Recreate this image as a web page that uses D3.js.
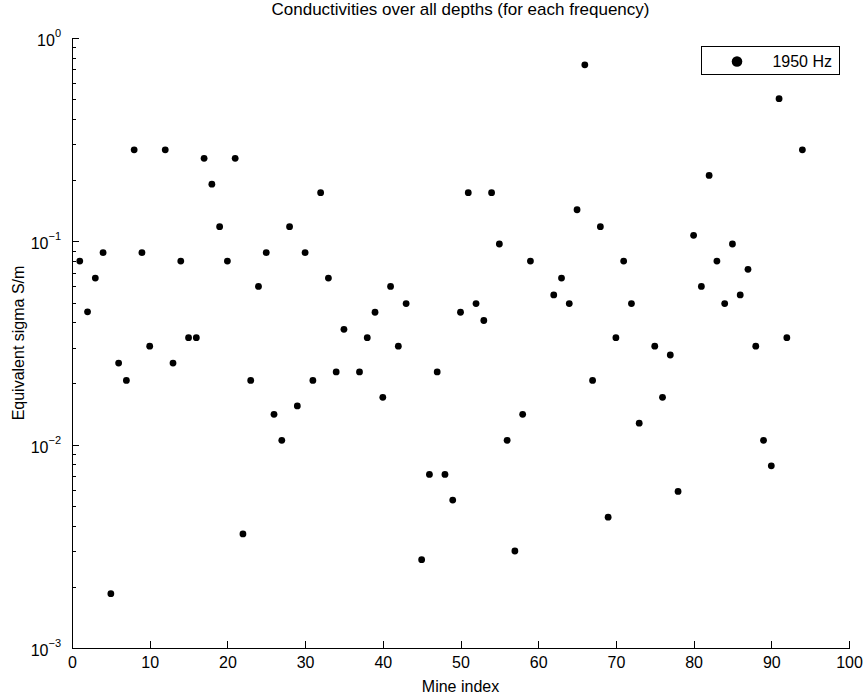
<!DOCTYPE html>
<meta charset="utf-8">
<style>

body {
  margin: 0;
  background: #fff;
}

text {
  font-family: "Liberation Sans", Arial, Helvetica, sans-serif;
  fill: #000;
}

.axis path,
.axis line {
  fill: none;
  stroke: #000;
  stroke-width: 1px;
  shape-rendering: crispEdges;
}

.dot {
  fill: #000;
}

</style>
<body>
<script src="https://cdnjs.cloudflare.com/ajax/libs/d3/7.8.5/d3.min.js"></script>
<script>

// Chart size.
var width = 866,
    height = 700;

var padLeft = 72, padRight = 849, padTop = 38, padBottom = 648;

// Data: mine index and equivalent sigma (S/m) at 1950 Hz.
var mineIndex = [1, 2, 3, 4, 5, 6, 7, 8, 9, 10,
  12, 13, 14, 15, 16, 17, 18, 19, 20, 21, 22, 23, 24, 25, 26, 27, 28, 29, 30,
  31, 32, 33, 34, 35, 37, 38, 39, 40, 41, 42, 43, 45, 46, 47, 48, 49, 50,
  51, 52, 53, 54, 55, 56, 57, 58, 59, 62, 63, 64, 65, 66, 67, 68, 69, 70,
  71, 72, 73, 75, 76, 77, 78, 80, 81, 82, 83, 84, 85, 86, 87, 88, 89, 90,
  91, 92, 94];

var sigma = [0.080, 0.045, 0.066, 0.088, 0.00185, 0.0252, 0.0207, 0.282, 0.088, 0.0305,
  0.282, 0.0252, 0.080, 0.0336, 0.0336, 0.256, 0.191, 0.118, 0.080, 0.256, 0.00364, 0.0207, 0.060, 0.088, 0.0141, 0.0105, 0.118, 0.0155, 0.088,
  0.0207, 0.1735, 0.066, 0.0228, 0.0369, 0.0228, 0.0336, 0.0448, 0.0171, 0.060, 0.0305, 0.0494, 0.00272, 0.00714, 0.0228, 0.00714, 0.00534, 0.0448,
  0.1735, 0.0494, 0.0408, 0.1735, 0.097, 0.0105, 0.0030, 0.0141, 0.080, 0.0545, 0.066, 0.0494, 0.143, 0.738, 0.0207, 0.118, 0.0044, 0.0336,
  0.080, 0.0494, 0.01275, 0.0305, 0.0171, 0.0276, 0.00589, 0.107, 0.060, 0.211, 0.080, 0.0494, 0.097, 0.0545, 0.0728, 0.0305, 0.0105, 0.00787,
  0.503, 0.0336, 0.282];

var xTicks = [0, 10, 20, 30, 40, 50, 60, 70, 80, 90, 100];
var yDecades = [-3, -2, -1, 0];
var seriesName = "1950 Hz";

var title = "Conductivities over all depths (for each frequency)",
    xLabel = "Mine index",
    yLabel = "Equivalent sigma S/m";

var svg = d3.select("body").append("svg")
    .attr("width", width)
    .attr("height", height);

var x = d3.scaleLinear().domain([0, 100]).range([padLeft, padRight]);
var y = d3.scaleLog().domain([1e-3, 1]).range([padBottom, padTop]);

// Minor ticks on the log axis: 2..9 in each decade.
var minor = [];
yDecades.slice(0, 3).forEach(function(p) {
  for (var k = 2; k < 10; k++) minor.push(k * Math.pow(10, p));
});

// x axis, ticks pointing inward.
var gx = svg.append("g")
    .attr("class", "axis")
    .attr("transform", "translate(0," + padBottom + ")")
    .call(d3.axisBottom(x).tickValues(xTicks).tickSize(-7).tickSizeOuter(0).tickPadding(9));

gx.selectAll("text")
    .style("font-size", "16px");

// y axis, major and minor ticks.
svg.append("g")
    .attr("class", "axis")
    .attr("transform", "translate(" + padLeft + ",0)")
    .call(d3.axisLeft(y).tickValues(yDecades.map(function(p) { return Math.pow(10, p); }))
      .tickSize(-7).tickSizeOuter(0).tickFormat(""));

svg.append("g")
    .attr("class", "axis")
    .attr("transform", "translate(" + padLeft + ",0)")
    .call(d3.axisLeft(y).tickValues(minor).tickSize(-4).tickSizeOuter(0).tickFormat(""))
    .select(".domain").remove();

// Tick labels as 10 with a raised exponent.
var ylab = svg.append("g").selectAll("text")
    .data(yDecades)
  .enter().append("text")
    .attr("x", padLeft - 11)
    .attr("y", function(p) { return y(Math.pow(10, p)) + 8; })
    .attr("text-anchor", "end")
    .style("font-size", "16px");

ylab.append("tspan").text("10");
ylab.append("tspan")
    .attr("dy", -9)
    .style("font-size", "11px")
    .text(function(p) { return p === 0 ? "0" : "\u2212" + (-p); });

// Points.
svg.append("g").selectAll("circle")
    .data(mineIndex)
  .enter().append("circle")
    .attr("class", "dot")
    .attr("cx", function(d) { return x(d); })
    .attr("cy", function(d, i) { return y(sigma[i]); })
    .attr("r", 3.4);

// Legend.
var legend = svg.append("g");

legend.append("rect")
    .attr("x", 701.5)
    .attr("y", 46.5)
    .attr("width", 138)
    .attr("height", 28)
    .attr("fill", "#fff")
    .attr("stroke", "#000");

legend.append("circle")
    .attr("cx", 737)
    .attr("cy", 61.5)
    .attr("r", 5.3)
    .attr("fill", "#000");

legend.append("text")
    .attr("x", 832)
    .attr("y", 66.5)
    .attr("text-anchor", "end")
    .style("font-size", "16px")
    .text(seriesName);

// Title and labels.
svg.append("text")
    .attr("x", (padLeft + padRight) / 2)
    .attr("y", 15)
    .attr("text-anchor", "middle")
    .style("font-size", "17px")
    .text(title);

svg.append("text")
    .attr("x", (padLeft + padRight) / 2)
    .attr("y", 692)
    .attr("text-anchor", "middle")
    .style("font-size", "16px")
    .text(xLabel);

svg.append("text")
    .attr("transform", "translate(24," + (padTop + padBottom) / 2 + ")rotate(-90)")
    .attr("text-anchor", "middle")
    .style("font-size", "16px")
    .text(yLabel);

</script>
